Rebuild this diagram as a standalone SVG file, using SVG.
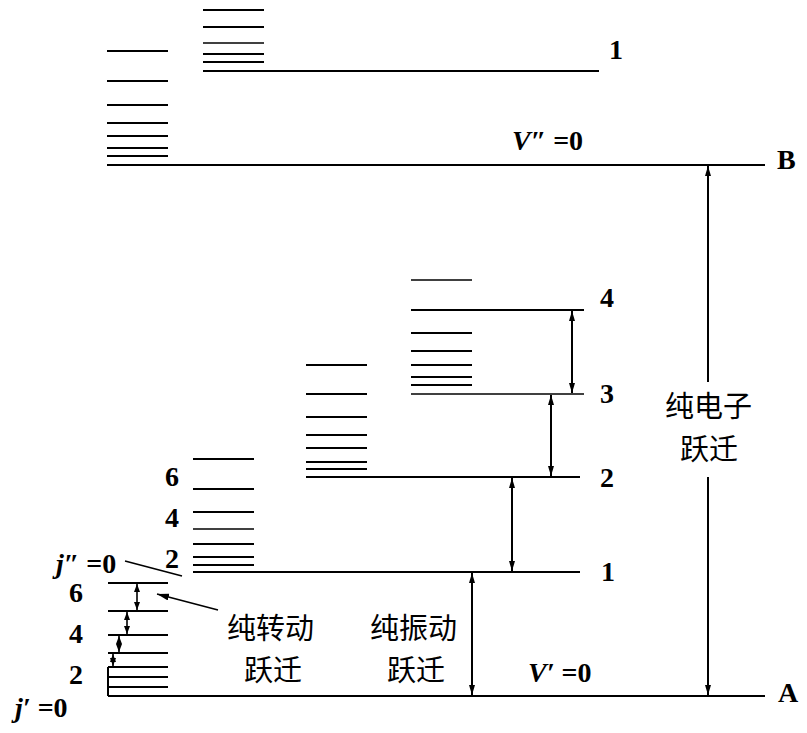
<svg xmlns="http://www.w3.org/2000/svg" width="807" height="733" viewBox="0 0 807 733">
<defs>
<style>
.l{stroke:#000;stroke-width:2;fill:none}
.t{stroke:#000;stroke-width:1.4;fill:none}
.a{stroke:#000;stroke-width:2;fill:none;marker-start:url(#ah);marker-end:url(#ah)}
.as{stroke:#000;stroke-width:1.6;fill:none;marker-start:url(#ahs);marker-end:url(#ahs)}
.n{font-family:"Liberation Serif",serif;font-weight:bold;font-size:28px;fill:#000}
.i{font-style:italic}
.c{font-family:"Noto Sans CJK SC",sans-serif;font-size:29px;fill:#000}
</style>
<marker id="ah" viewBox="0 0 10 6" refX="10" refY="3" markerWidth="10" markerHeight="6" markerUnits="userSpaceOnUse" orient="auto-start-reverse"><path d="M0,0 L10,3 L0,6 z" fill="#000"/></marker>
<marker id="ahs" viewBox="0 0 8 6" refX="8" refY="3" markerWidth="8" markerHeight="6" markerUnits="userSpaceOnUse" orient="auto-start-reverse"><path d="M0,0 L8,3 L0,6 z" fill="#000"/></marker>
<marker id="ahp" viewBox="0 0 12 7" refX="12" refY="3.5" markerWidth="12" markerHeight="7" markerUnits="userSpaceOnUse" orient="auto"><path d="M0,0 L12,3.5 L0,7 z" fill="#000"/></marker>
</defs>
<rect width="807" height="733" fill="#fff"/>

<g id="levelB">
<line class="l" x1="107" y1="165" x2="765" y2="165"/>
<path class="l" d="M107,51H168M107,81H168M107,105H168M107,123H168M107,136H168M107,148H168M107,156H168"/>
<text class="n" x="777" y="169">B</text>
<text class="n" x="512" y="150"><tspan class="i">V″</tspan> =0</text>
</g>
<g id="levelB1">
<line class="l" x1="203" y1="71" x2="599" y2="71"/>
<path class="l" d="M203,10H264M203,27H264M203,54H264M203,62H264"/>
<path class="t" d="M203,43H264"/>
<text class="n" x="609" y="59">1</text>
</g>

<g id="levelA">
<line class="l" x1="108" y1="696" x2="765" y2="696"/>
<path class="l" d="M108,583H168M108,611H168M108,635H168M108,653H168M108,667H168M108,677H168M108,687H168"/>
<line class="l" x1="108" y1="667" x2="108" y2="696"/>
<text class="n" x="778" y="702">A</text>
<text class="n" x="528" y="682"><tspan class="i">V′</tspan> =0</text>
<text class="n" x="69" y="602">6</text>
<text class="n" x="69" y="643">4</text>
<text class="n" x="69" y="684">2</text>
<text class="n" x="15" y="717"><tspan class="i">j′</tspan> =0</text>
</g>
<g id="levelA1">
<line class="l" x1="193" y1="572" x2="580" y2="572"/>
<path class="l" d="M193,459H254M193,489H254M193,512H254M193,544H254M193,557H254M193,565H254"/>
<path class="t" d="M193,529H254"/>
<text class="n" x="601" y="581">1</text>
<text class="n" x="165" y="486">6</text>
<text class="n" x="165" y="527">4</text>
<text class="n" x="165" y="568">2</text>
<text class="n" x="56" y="573"><tspan class="i">j″</tspan> =0</text>
</g>
<g id="levelA2">
<line class="l" x1="306" y1="477" x2="580" y2="477"/>
<path class="l" d="M306,365H367M306,394H367M306,417H367M306,435H367M306,448H367M306,462H367M306,469H367"/>
<text class="n" x="600" y="487">2</text>
</g>
<g id="levelA3">
<line class="t" x1="411" y1="394" x2="584" y2="394"/>
<text class="n" x="600" y="403">3</text>
</g>
<g id="levelA4">
<line class="l" x1="411" y1="310" x2="584" y2="310"/>
<path class="t" d="M411,280H472"/>
<path class="l" d="M411,333H472M411,351H472M411,365H472M411,377H472M411,385H472"/>
<text class="n" x="600" y="307">4</text>
</g>

<g id="labels">
<text class="c" x="665" y="417">纯电子</text>
<text class="c" x="680" y="460">跃迁</text>
<text class="c" x="227" y="639">纯转动</text>
<text class="c" x="244" y="681">跃迁</text>
<text class="c" x="370" y="639">纯振动</text>
<text class="c" x="387" y="681">跃迁</text>
</g>

<g id="connectors">
<line class="a" x1="572" y1="311" x2="572" y2="393"/>
<line class="a" x1="551" y1="395" x2="551" y2="476"/>
<line class="a" x1="512" y1="478" x2="512" y2="571"/>
<line class="a" x1="472" y1="573" x2="472" y2="695"/>
<line class="l" x1="708" y1="166" x2="708" y2="382" marker-start="url(#ah)"/>
<line class="l" x1="708" y1="477" x2="708" y2="695" marker-end="url(#ah)"/>
<line class="as" x1="137" y1="584" x2="137" y2="610"/>
<line class="as" x1="127" y1="612" x2="127" y2="634"/>
<line class="as" x1="119" y1="636" x2="119" y2="652"/>
<line class="as" x1="113" y1="654" x2="113" y2="666"/>
<line stroke="#000" stroke-width="1.6" x1="218" y1="610" x2="157" y2="594" marker-end="url(#ahp)"/>
<line stroke="#000" stroke-width="1.6" x1="125" y1="561" x2="182" y2="576"/>
</g>
</svg>
